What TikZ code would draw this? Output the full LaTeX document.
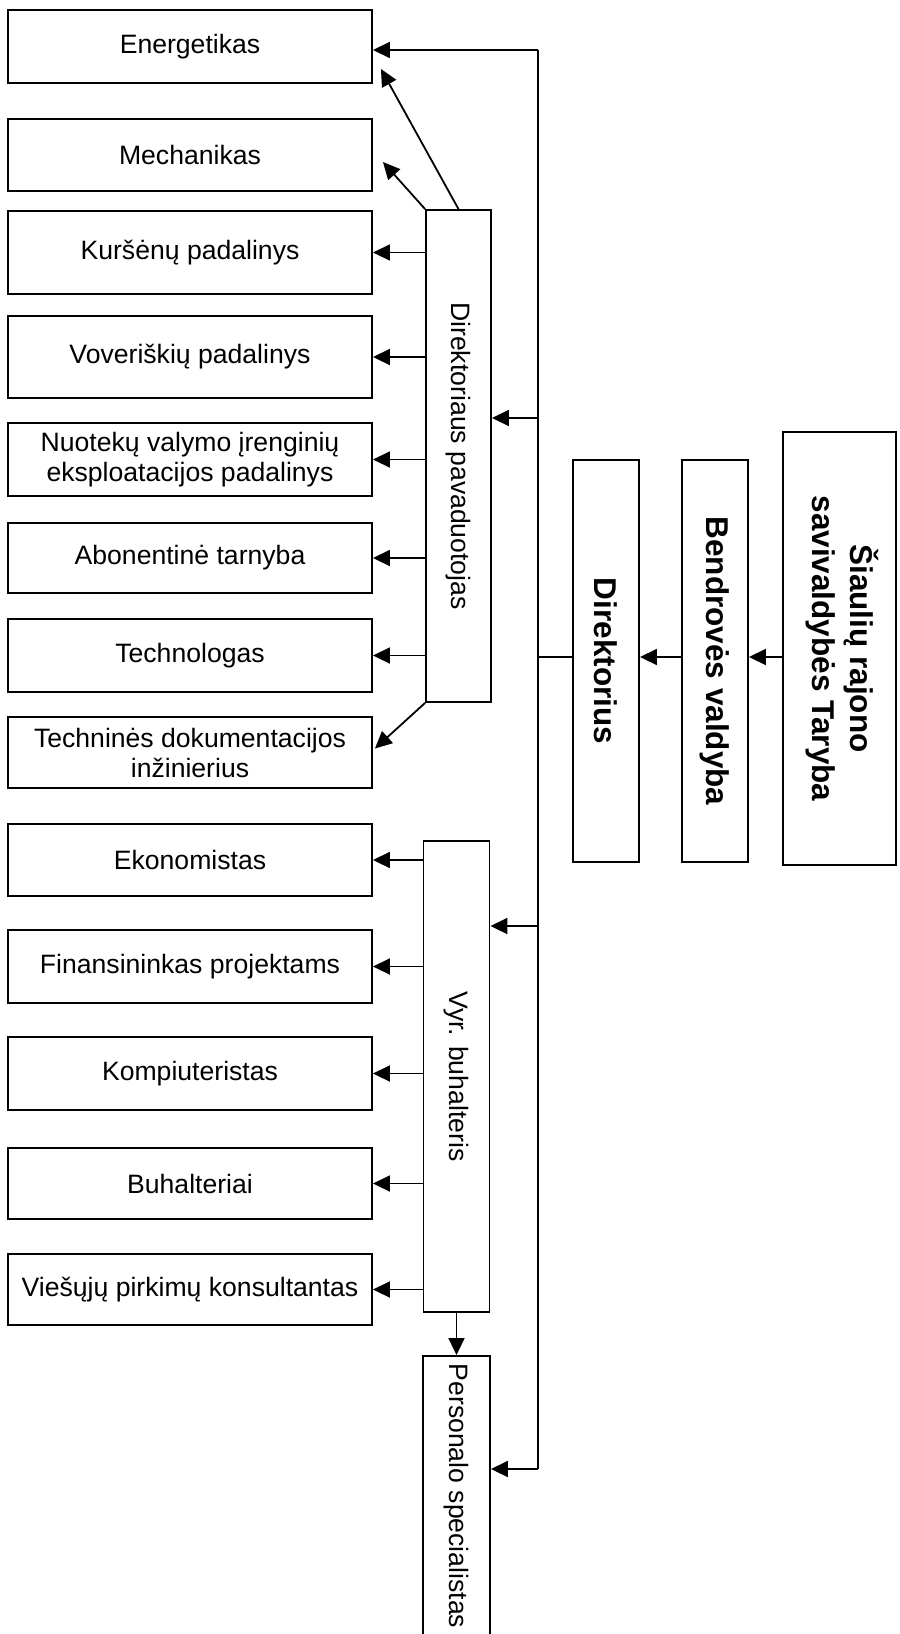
\documentclass[tikz,border=0pt]{standalone}
\usepackage{fontspec}
\setmainfont{Liberation Sans}
\usepackage{tikz}
\usetikzlibrary{arrows.meta,calc}

\tikzset{
  post/.style={draw, line width=1.9pt, minimum width=364pt, minimum height=72pt,
    inner sep=0pt, align=center, font=\fontsize{26.6}{30}\selectfont},
  head/.style={draw, line width=1.9pt, inner sep=0pt},
  arr/.style={-{Triangle[length=17pt,width=16pt]}, line width=1.8pt},
  ln/.style={line width=1.8pt}
}
\newcommand{\vtext}[1]{\rotatebox{-90}{#1}}

\begin{document}
\begin{tikzpicture}[x=1pt,y=-1pt]
\clip (0,0) rectangle (900,1634);
\fill[white] (0,0) rectangle (900,1634);

\node[post, minimum height=73pt] (energ) at (190,46.5) {Energetikas};
\node[post] (mech) at (190,155) {Mechanikas};
\node[post, minimum height=83pt] (kur) at (190,252.5) {Kuršėnų padalinys};
\node[post, minimum height=82pt] (vov) at (190,357) {Voveriškių padalinys};
\node[post, minimum height=73pt] (nuot) at (190,459.5) {Nuotekų valymo įrenginių\\eksploatacijos padalinys};
\node[post, minimum height=70pt] (abon) at (190,558) {Abonentinė tarnyba};
\node[post, minimum height=73pt] (techn) at (190,655.5) {Technologas};
\node[post, minimum height=71pt] (doc) at (190,752.5) {Techninės dokumentacijos\\inžinierius};
\node[post] (ekon) at (190,860) {Ekonomistas};
\node[post, minimum height=73pt] (fin) at (190,966.5) {Finansininkas projektams};
\node[post, minimum height=73pt] (komp) at (190,1073.5) {Kompiuteristas};
\node[post, minimum height=71pt] (buhal) at (190,1183.5) {Buhalteriai};
\node[post, minimum height=71pt] (vies) at (190,1289.5) {Viešųjų pirkimų konsultantas};

\node[head, minimum width=65pt, minimum height=492pt, font=\fontsize{26.6}{30}\selectfont] (pav) at (458.5,456) {\vtext{Direktoriaus pavaduotojas}};
\node[head, minimum width=66pt, minimum height=471pt, font=\fontsize{26.6}{30}\selectfont] (buh) at (456.5,1076.5) {\vtext{Vyr. buhalteris}};
\node[head, minimum width=67pt, minimum height=280pt, font=\fontsize{26.6}{30}\selectfont] (pers) at (456.5,1496) {\vtext{Personalo specialistas}};

\node[head, minimum width=66pt, minimum height=402pt, font=\fontsize{31.5}{38}\selectfont\bfseries] (dir) at (606,661) {\vtext{Direktorius}};
\node[head, minimum width=66pt, minimum height=402pt, font=\fontsize{31.5}{38}\selectfont\bfseries] (bend) at (715,661) {\vtext{Bendrovės valdyba}};
\node[head, minimum width=113pt, minimum height=433pt, font=\fontsize{31.5}{38}\selectfont\bfseries] (siaul) at (839.5,648.5) {\vtext{\begin{tabular}{@{}c@{}}Šiaulių rajono\\savivaldybės Taryba\end{tabular}}};

\coordinate (ttop) at (538,50);
\coordinate (tbot) at (538,1469);
\coordinate (tpav) at (538,418);
\coordinate (tbuh) at (538,926);
\coordinate (tdir) at (538,657);

\draw[ln] (ttop) -- (tbot);
\draw[arr] (siaul.west |- tdir) -- (bend.east |- tdir);
\draw[arr] (bend.west |- tdir) -- (dir.east |- tdir);
\draw[ln] (dir.west |- tdir) -- (tdir);

\draw[arr] (ttop) -- (energ.east |- ttop);
\draw[arr] (tpav) -- (pav.east |- tpav);
\draw[arr] (tbuh) -- (buh.east |- tbuh);
\draw[arr] (tbot) -- (pers.east |- tbot);

\draw[arr] (pav.north) -- ($(energ.south east)+(8,-15)$);
\draw[arr] (pav.north west) -- ($(mech.east)+(10,7)$);
\foreach \n in {kur,vov,nuot,abon,techn}
  \draw[arr] (pav.west |- \n.east) -- (\n.east);
\draw[arr] (pav.south west) -- ($(doc.east)+(2,-4)$);

\foreach \n in {ekon,fin,komp,buhal,vies}
  \draw[arr] (buh.west |- \n.east) -- (\n.east);
\draw[arr] (buh.south) -- (pers.north);
\end{tikzpicture}
\end{document}
